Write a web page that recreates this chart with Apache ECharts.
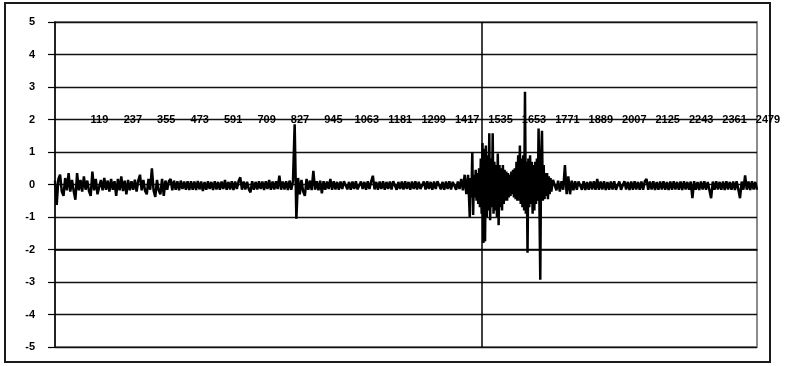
<!DOCTYPE html>
<html>
<head>
<meta charset="utf-8">
<script src="https://cdn.jsdelivr.net/npm/echarts@6/dist/echarts.min.js"></script>
<style>
  html, body { margin: 0; padding: 0; background: #fff; }
  #chart { width: 785px; height: 366px; }
</style>
</head>
<body>
<div id="chart"></div>
<script>
// Sample numbers run from 1 to 2479.
const SAMPLE_COUNT = 2479;
const LABEL_EVERY = 118;
const CROSS_AT = 1508;

// Quiet stretches are recorded every 6th sample, the burst every 3rd.
const START_FIRST = 1, START_STEP = 6;
const BURST_FIRST = 1459, BURST_STEP = 3;
const END_FIRST = 1753, END_STEP = 6;

// y axis ticks
const yTicks = [-5, -4, -3, -2, -1, 0, 1, 2, 3, 4, 5];

// Samples 1 .. 1453
const traceStart = [
  0.12, -0.63, 0.17, 0.3, -0.22, -0.35, 0.2, -0.18, 0.35, -0.22,
  0.14, -0.2, -0.47, 0.35, -0.18, 0.14, -0.22, 0.25, -0.16, 0.12,
  -0.2, -0.35, 0.4, -0.18, 0.17, -0.3, -0.35, 0.14, -0.18, 0.2,
  -0.16, 0.12, -0.22, 0.17, -0.16, 0.1, -0.35, 0.17, -0.18, 0.25,
  -0.2, 0.12, -0.3, 0.14, -0.18, 0.1, -0.16, 0.15, -0.22, 0.12,
  0.3, -0.18, 0.14, -0.2, -0.3, 0.17, -0.16, 0.5, -0.18, -0.38,
  0.14, -0.18, -0.3, 0.17, -0.35, 0.12, -0.16, 0.1, 0.17, -0.18,
  0.12, -0.16, 0.1, -0.18, 0.12, -0.14, 0.09, -0.16, 0.1, -0.17,
  0.1, -0.16, 0.09, -0.17, 0.11, -0.15,
  0.09, -0.2, 0.08, -0.16, 0.1, -0.14, 0.08, -0.17, 0.1, -0.15,
  0.08, -0.16, 0.09, -0.14, 0.14, -0.16, 0.08, -0.15, 0.1, -0.17,
  0.09, -0.14, 0.1, 0.22, -0.16, 0.09, -0.15, 0.08, -0.14, -0.24,
  0.1, -0.16, 0.08, -0.15, 0.1, -0.14, 0.09, -0.17, 0.1, -0.14,
  0.14, -0.16, 0.09, -0.15, 0.1, -0.14, 0.27, -0.16, 0.09, -0.15,
  0.1, -0.17, 0.12, -0.16, 0.1, 1.85, -1.05, 0.2, -0.3, 0.14,
  -0.22, -0.35, 0.17, -0.16, 0.12, -0.17, 0.42, -0.16, 0.1, -0.18,
  0.12, -0.27, 0.1, -0.16, 0.09, -0.14, 0.17, -0.16, 0.1, -0.15,
  0.08, -0.16, 0.09, -0.14, 0.1, 0.14, -0.15, 0.08, -0.16, 0.09,
  -0.14, 0.1, -0.15, -0.17, 0.09, -0.14, 0.08, -0.16, 0.1, -0.14,
  0.09, 0.27, -0.15, 0.08, -0.16, 0.09, -0.14, 0.1, -0.16, 0.08,
  -0.14, 0.09, -0.15, 0.1, 0.13, -0.16, 0.08, -0.14, 0.09, -0.15,
  0.1, -0.14, 0.08, -0.16, 0.09, -0.14, 0.1, -0.15, 0.08, -0.14,
  -0.19, 0.09, -0.15, 0.1, -0.14, 0.08, -0.16, 0.09, -0.14, 0.1,
  0.14, -0.15, 0.08, -0.16, 0.09, -0.14, 0.1, -0.15, 0.08, 0.1,
  -0.16, 0.09, -0.14, 0.17, -0.18, 0.3, -0.3
];

// Samples 1459 .. 1750
const traceBurst = [
  0.3, -0.3, -1.0, 0.2, -0.4, 1.0, -0.94, 0.3, -0.4, 0.45,
  -0.5, 0.35, -0.6, 0.5, -0.7, 0.8, -0.9, 1.28, -1.8, 1.1,
  -1.75, 1.2, -1.0, 0.9, -0.8, 1.58, -1.1, 0.8, -0.7, 1.58,
  -0.9, 0.7, -0.8, 0.6, -1.0, 0.95, -1.25, 0.6, -0.7, 0.5,
  -0.8, 0.6, -0.6, 0.45, -0.5, 0.4, -0.5, 0.35, -0.4, 0.3,
  -0.35, 0.4, -0.3, 0.45, -0.4, 0.5, -0.45, 0.7, -0.5, 0.9,
  -0.5, 1.2, -0.6, 0.8, -0.7, 0.9, -0.8, 2.85, -0.9, 0.7,
  -2.1, 0.8, -0.7, 0.9, -0.6, 0.7, -0.9, 0.6, -0.8, 0.7,
  -0.6, 0.8, -0.5, 1.72, -0.6, -2.93, 0.9, 1.65, -0.5, 0.6,
  -0.45, 0.35, -0.35, 0.35, -0.45, 0.25, -0.3, 0.2
];

// Samples 1753 .. 2479
const traceEnd = [
  -0.22, 0.14, 0.17, -0.18, 0.12, -0.22, 0.1, -0.16, 0.6, -0.3,
  0.25, -0.3, 0.12, -0.18, 0.1, -0.16, 0.09, 0.14, -0.16, 0.1,
  -0.17, 0.08, -0.16, 0.09, -0.15, 0.1, -0.16, 0.17, -0.16, 0.09,
  -0.15, 0.1, -0.17, 0.08, -0.16, 0.09, -0.15, 0.1, -0.16, -0.22,
  0.09, -0.16, -0.22, 0.1, -0.15, 0.08, -0.17, 0.09, -0.16, 0.1,
  -0.15, 0.08, -0.16, 0.09, -0.16, 0.1, 0.17, -0.16, 0.09, -0.15,
  0.1, -0.17, 0.08, -0.16, 0.09, -0.15, 0.1, -0.16, 0.08, -0.17,
  0.09, -0.16, 0.1, -0.15, 0.08, -0.16, 0.09, -0.17, 0.1, -0.15,
  0.08, -0.16, 0.09, -0.42, 0.1, -0.16, 0.08, -0.17, 0.09, -0.15,
  0.1, -0.16, 0.08, -0.17, -0.42, 0.09, -0.16, 0.1, -0.15, 0.08,
  -0.16, 0.09, -0.17, 0.1, -0.15, 0.08, -0.16, 0.09, -0.17, 0.1,
  -0.15, -0.42, 0.09, -0.16, 0.28, -0.16, 0.09, -0.17, 0.1, -0.15,
  0.08, -0.16
];

// Category names: sample numbers 1 .. SAMPLE_COUNT
const categories = [];
for (let n = 1; n <= SAMPLE_COUNT; n++) categories.push(String(n));

// [category index, value] pairs for the line
function toPairs(values, first, step) {
  return values.map((v, i) => [first - 1 + i * step, v]);
}
const seriesData = []
  .concat(toPairs(traceStart, START_FIRST, START_STEP))
  .concat(toPairs(traceBurst, BURST_FIRST, BURST_STEP))
  .concat(toPairs(traceEnd, END_FIRST, END_STEP));

const FONT = 'Liberation Sans, Arial, sans-serif';

const chart = echarts.init(document.getElementById('chart'), null, { renderer: 'canvas' });
chart.setOption({
  animation: false,
  backgroundColor: '#fff',
  grid: {
    left: 55, right: 28, top: 22, bottom: 19,
    show: true, borderColor: '#8c8c8c', borderWidth: 2, backgroundColor: 'transparent'
  },
  graphic: [{
    type: 'rect', silent: true, z: 0,
    shape: { x: 5, y: 3, width: 765, height: 359 },
    style: { fill: null, stroke: '#1a1a1a', lineWidth: 2 }
  }],
  xAxis: {
    type: 'category',
    data: categories,
    boundaryGap: false,
    position: 'bottom',
    offset: -227.5,
    axisLine: { show: true, lineStyle: { color: '#000', width: 1.5 } },
    axisTick: { show: false },
    splitLine: { show: false },
    axisLabel: {
      interval: LABEL_EVERY - 1,
      showMinLabel: false,
      margin: 0,
      verticalAlign: 'middle',
      color: '#000',
      fontFamily: FONT,
      fontSize: 11,
      fontWeight: 'bold',
      padding: [0, 0, 0, 22]
    }
  },
  yAxis: {
    type: 'value',
    min: yTicks[0],
    max: yTicks[yTicks.length - 1],
    interval: 1,
    axisLine: { show: true, onZero: false, lineStyle: { color: '#000', width: 1.5 } },
    axisTick: { show: true, inside: false, length: 7, lineStyle: { color: '#000', width: 1.2 } },
    splitLine: { show: true, lineStyle: { color: '#111', width: 1.3 } },
    axisLabel: {
      color: '#000',
      fontFamily: FONT,
      fontSize: 11,
      fontWeight: 'bold',
      margin: 20
    }
  },
  series: [{
    type: 'line',
    data: seriesData,
    showSymbol: false,
    symbol: 'none',
    lineStyle: { color: '#000', width: 2.5 },
    z: 3,
    markLine: {
      silent: true,
      symbol: 'none',
      label: { show: false },
      lineStyle: { color: '#000', width: 1.5, type: 'solid' },
      data: [{ xAxis: CROSS_AT - 1 }]
    }
  }]
});
</script>
</body>
</html>
